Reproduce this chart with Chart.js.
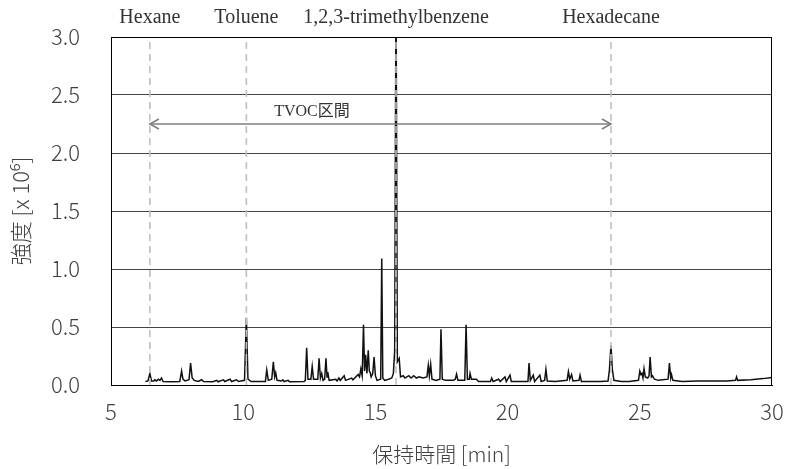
<!DOCTYPE html>
<html>
<head>
<meta charset="utf-8">
<script src="https://cdn.jsdelivr.net/npm/chart.js@4.4.0/dist/chart.umd.min.js"></script>
<style>
  html, body { margin: 0; padding: 0; background: #fff; }
  #wrap { width: 788px; height: 469px; }
</style>
</head>
<body>
<div id="wrap"><canvas id="chromChart"></canvas></div>
<script>
// 保持時間 [min] と強度 [x 10^6]
const retentionTimes = [
  6.30, 6.40, 6.47, 6.53, 6.62, 6.66, 6.72, 6.79, 6.85, 6.91, 6.97, 7.30, 7.60, 7.67, 7.72, 7.80,
  7.95, 8.01, 8.07, 8.15, 8.30, 8.43, 8.50, 8.85, 9.00, 9.05, 9.25, 9.30, 9.50, 9.56, 9.75, 9.82,
  10.05, 10.12, 10.18, 10.30, 10.84, 10.89, 10.95, 11.08, 11.14, 11.19, 11.23, 11.28, 11.45, 11.50,
  11.55, 11.70, 11.75, 12.30, 12.35, 12.40, 12.45, 12.56, 12.61, 12.66, 12.82, 12.87, 12.92, 12.97,
  13.02, 13.08, 13.13, 13.17, 13.20, 13.25, 13.50, 13.55, 13.62, 13.67, 13.82, 13.87, 14.10, 14.15,
  14.35, 14.40, 14.45, 14.50, 14.55, 14.59, 14.63, 14.68, 14.73, 14.77, 14.80, 14.84, 14.90, 14.95,
  15.00, 15.06, 15.20, 15.24, 15.28, 15.35, 15.50, 15.62, 15.68, 15.73, 15.78, 15.83, 15.90, 15.95,
  16.05, 16.12, 16.26, 16.35, 16.45, 16.55, 16.65, 16.80, 16.95, 17.00, 17.04, 17.09, 17.14, 17.30,
  17.44, 17.48, 17.53, 17.65, 17.95, 18.02, 18.07, 18.12, 18.38, 18.43, 18.48, 18.55, 18.58, 18.63,
  18.82, 18.90, 19.35, 19.40, 19.45, 19.66, 19.72, 19.90, 19.95, 20.09, 20.14, 20.50, 20.77, 20.81,
  20.86, 20.97, 21.02, 21.22, 21.27, 21.40, 21.45, 21.50, 21.80, 22.25, 22.30, 22.35, 22.42, 22.47,
  22.70, 22.74, 22.79, 23.50, 23.80, 23.85, 23.91, 23.96, 24.02, 24.30, 24.60, 24.95, 25.00, 25.04,
  25.08, 25.12, 25.16, 25.21, 25.30, 25.35, 25.39, 25.44, 25.48, 25.55, 25.70, 26.07, 26.12, 26.17,
  26.20, 26.25, 26.60, 27.20, 27.80, 28.30, 28.62, 28.66, 28.70, 29.20, 29.66, 30.00
];
const intensities = [
  0.030, 0.035, 0.100, 0.035, 0.035, 0.045, 0.035, 0.050, 0.040, 0.060, 0.030, 0.028, 0.030, 0.120, 0.050, 0.035,
  0.045, 0.190, 0.060, 0.040, 0.030, 0.045, 0.030, 0.028, 0.040, 0.028, 0.045, 0.030, 0.050, 0.030, 0.045, 0.030,
  0.040, 0.580, 0.050, 0.030, 0.030, 0.130, 0.040, 0.050, 0.200, 0.070, 0.105, 0.040, 0.035, 0.045,
  0.030, 0.040, 0.028, 0.030, 0.040, 0.320, 0.050, 0.050, 0.160, 0.050, 0.050, 0.230, 0.060, 0.100,
  0.040, 0.050, 0.230, 0.070, 0.110, 0.040, 0.050, 0.035, 0.060, 0.040, 0.080, 0.040, 0.060, 0.045,
  0.090, 0.070, 0.140, 0.080, 0.520, 0.120, 0.260, 0.100, 0.300, 0.120, 0.110, 0.070, 0.100, 0.240,
  0.080, 0.040, 0.050, 1.090, 0.060, 0.040, 0.050, 0.060, 0.100, 0.300, 3.500, 0.200, 0.230, 0.070,
  0.080, 0.060, 0.080, 0.060, 0.080, 0.060, 0.070, 0.060, 0.070, 0.170, 0.080, 0.180, 0.050, 0.040,
  0.050, 0.480, 0.050, 0.040, 0.040, 0.050, 0.095, 0.040, 0.040, 0.520, 0.050, 0.050, 0.100, 0.050,
  0.050, 0.030, 0.030, 0.060, 0.030, 0.050, 0.030, 0.070, 0.030, 0.085, 0.030, 0.030, 0.030, 0.190,
  0.040, 0.085, 0.030, 0.085, 0.030, 0.040, 0.135, 0.035, 0.030, 0.040, 0.115, 0.050, 0.090, 0.035,
  0.040, 0.085, 0.030, 0.030, 0.035, 0.130, 0.340, 0.140, 0.040, 0.030, 0.030, 0.040, 0.120, 0.090,
  0.100, 0.060, 0.140, 0.070, 0.060, 0.080, 0.240, 0.070, 0.080, 0.050, 0.040, 0.050, 0.190, 0.060,
  0.090, 0.040, 0.030, 0.035, 0.035, 0.035, 0.040, 0.070, 0.040, 0.045, 0.055, 0.065
];

// 成分マーカー
const markerNames = ['Hexane', 'Toluene', '1,2,3-trimethylbenzene', 'Hexadecane'];
const markerTimes = [6.47, 10.12, 15.78, 23.91];

// TVOC区間
const tvocRange = [6.47, 23.91];
const tvocLevel = 2.25;
const tvocLabel = 'TVOC区間';
const tvocLabelTime = 12.6;

const xTicks = [5, 10, 15, 20, 25, 30];
const yTicks = [0, 0.5, 1.0, 1.5, 2.0, 2.5, 3.0];

const sansFont = '"Noto Sans CJK JP", "Noto Sans", sans-serif';
const serifFont = '"Liberation Serif", "Noto Sans CJK JP", serif';

// 破線（各成分の位置）
const markerSets = markerTimes.map(t => ({
    data: [{x: t, y: 0}, {x: t, y: 3.0}],
    borderColor: '#c0c0c0',
    borderWidth: 1.6,
    borderDash: [7, 5],
    pointRadius: 0,
    order: 0
}));

// 文字と矢印の先端と枠
const annotations = {
    id: 'annotations',
    afterDatasetsDraw(chart) {
        const {ctx, chartArea, scales: {x, y}} = chart;
        ctx.save();
        ctx.fillStyle = '#333';
        ctx.textAlign = 'center';
        ctx.textBaseline = 'middle';
        ctx.font = '20px ' + serifFont;
        markerNames.forEach((name, i) => {
            ctx.fillText(name, x.getPixelForValue(markerTimes[i]), chartArea.top - 19);
        });

        const ya = y.getPixelForValue(tvocLevel);
        const x0 = x.getPixelForValue(tvocRange[0]);
        const x1 = x.getPixelForValue(tvocRange[1]);
        ctx.strokeStyle = '#7f7f7f';
        ctx.lineWidth = 1.6;
        ctx.beginPath();
        ctx.moveTo(x0 + 9, ya - 5); ctx.lineTo(x0, ya); ctx.lineTo(x0 + 9, ya + 5);
        ctx.moveTo(x1 - 9, ya - 5); ctx.lineTo(x1, ya); ctx.lineTo(x1 - 9, ya + 5);
        ctx.stroke();

        ctx.font = '16px ' + serifFont;
        ctx.fillText(tvocLabel, x.getPixelForValue(tvocLabelTime), ya - 12);

        // 枠線
        ctx.strokeStyle = '#000';
        ctx.lineWidth = 1;
        ctx.strokeRect(chartArea.left + 0.5, chartArea.top + 0.5,
            chartArea.right - chartArea.left - 1, chartArea.bottom - chartArea.top);
        ctx.restore();
    }
};

const ctx = document.getElementById('chromChart').getContext('2d');
const chromChart = new Chart(ctx, {
    type: 'line',
    data: {
        datasets: [
            ...markerSets,
            {
                data: [{x: tvocRange[0], y: tvocLevel}, {x: tvocRange[1], y: tvocLevel}],
                borderColor: '#7f7f7f',
                borderWidth: 1.6,
                pointRadius: 0,
                order: 0
            },
            {
                data: retentionTimes.map((t, i) => ({x: t, y: intensities[i]})),
                borderColor: '#111',
                borderWidth: 1.5,
                pointRadius: 0,
                tension: 0,
                order: 1
            }
        ]
    },
    options: {
        responsive: true,
        maintainAspectRatio: false,
        animation: false,
        layout: { padding: { left: 0, right: 16, top: 37, bottom: 0 } },
        plugins: { legend: { display: false }, tooltip: { enabled: false } },
        scales: {
            x: {
                type: 'linear',
                min: 5,
                max: 30,
                afterFit: (scale) => {
                    scale.height = 84;
                    scale.paddingLeft = 0;
                    scale.paddingRight = 0;
                },
                afterBuildTicks: (scale) => { scale.ticks = xTicks.map(v => ({value: v})); },
                grid: { display: false, drawTicks: false },
                border: { display: true, color: '#000', width: 1 },
                ticks: {
                    padding: 13,
                    color: '#404040',
                    font: { family: sansFont, size: 22, weight: 300 }
                },
                title: {
                    display: true,
                    text: '保持時間 [min]',
                    color: '#404040',
                    font: { family: sansFont, size: 21, weight: 300 },
                    padding: { top: 0, bottom: 2 }
                }
            },
            y: {
                min: 0,
                max: 3.0,
                afterFit: (scale) => {
                    scale.width = 111;
                    scale.paddingTop = 0;
                    scale.paddingBottom = 0;
                },
                afterBuildTicks: (scale) => { scale.ticks = yTicks.map(v => ({value: v})); },
                grid: { color: '#444', lineWidth: 1, drawTicks: false },
                border: { display: true, color: '#000', width: 1 },
                ticks: {
                    padding: 31,
                    color: '#404040',
                    font: { family: sansFont, size: 22, weight: 300 },
                    callback: (v) => v.toFixed(1)
                },
                title: {
                    display: true,
                    text: '強度 [x 10⁶]',
                    color: '#404040',
                    font: { family: sansFont, size: 22, weight: 300 },
                    padding: { top: 7, bottom: 0 }
                }
            }
        }
    },
    plugins: [annotations]
});
</script>
</body>
</html>
